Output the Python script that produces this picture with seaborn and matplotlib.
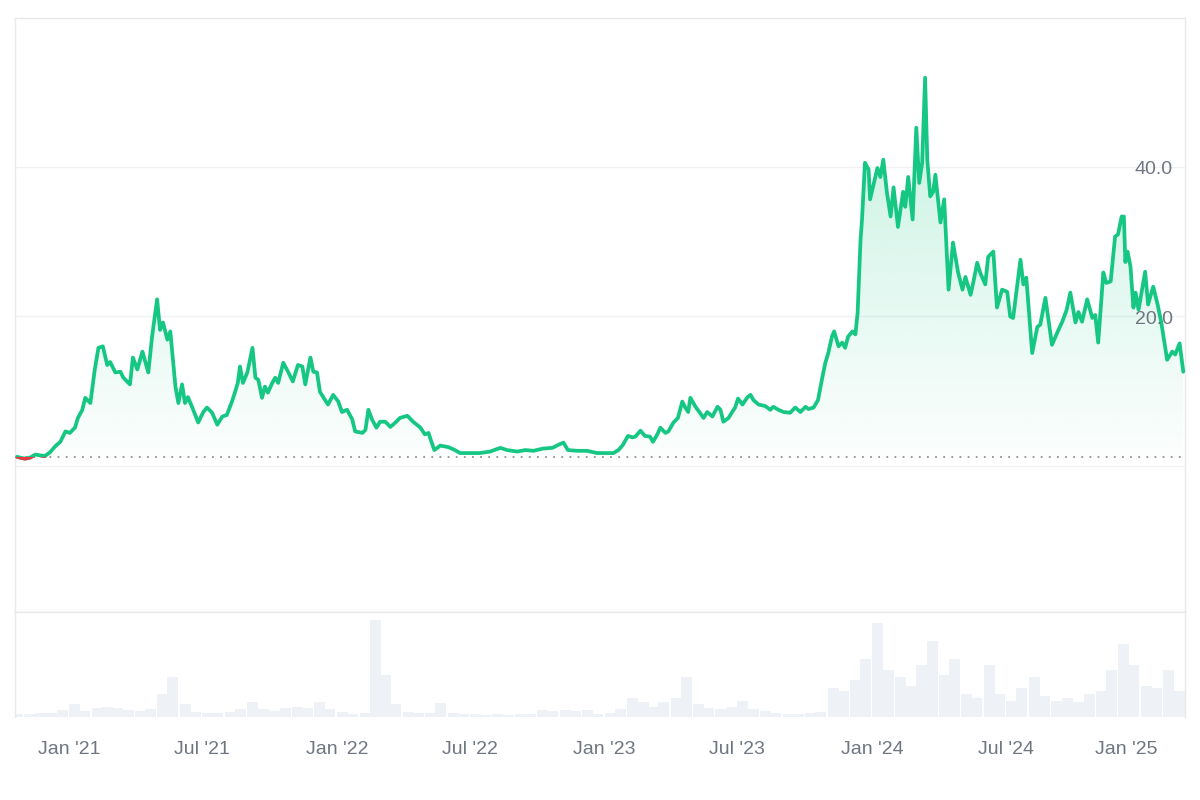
import numpy as np
import pandas as pd
import matplotlib
matplotlib.use("Agg")
import matplotlib.pyplot as plt
import matplotlib.dates as mdates
import matplotlib.transforms as mtransforms
from matplotlib.patches import Polygon, Rectangle
from matplotlib.colors import to_rgb
import seaborn as sns

# ---------------- data ----------------
price_dates = [
    "2020-10-22", "2020-10-28", "2020-11-02", "2020-11-09", "2020-11-16", "2020-11-22", "2020-11-29",
    "2020-12-06", "2020-12-13", "2020-12-20", "2020-12-27", "2021-01-02", "2021-01-09", "2021-01-13",
    "2021-01-19", "2021-01-23", "2021-01-30", "2021-02-05", "2021-02-10", "2021-02-16", "2021-02-22",
    "2021-02-26", "2021-03-05", "2021-03-12", "2021-03-16", "2021-03-25", "2021-03-29", "2021-04-04",
    "2021-04-11", "2021-04-19", "2021-04-24", "2021-05-01", "2021-05-05", "2021-05-09", "2021-05-15",
    "2021-05-19", "2021-05-26", "2021-05-30", "2021-06-04", "2021-06-08", "2021-06-12", "2021-06-18",
    "2021-06-26", "2021-07-03", "2021-07-08", "2021-07-15", "2021-07-22", "2021-07-29", "2021-08-04",
    "2021-08-11", "2021-08-15", "2021-08-19", "2021-08-22", "2021-08-26", "2021-09-01", "2021-09-08",
    "2021-09-12", "2021-09-16", "2021-09-21", "2021-09-25", "2021-09-29", "2021-10-05", "2021-10-09",
    "2021-10-13", "2021-10-20", "2021-10-27", "2021-11-02", "2021-11-09", "2021-11-15", "2021-11-19",
    "2021-11-26", "2021-11-30", "2021-12-05", "2021-12-09", "2021-12-16", "2021-12-20", "2021-12-27",
    "2022-01-03", "2022-01-08", "2022-01-15", "2022-01-22", "2022-01-26", "2022-02-05", "2022-02-09",
    "2022-02-13", "2022-02-18", "2022-02-24", "2022-03-01", "2022-03-08", "2022-03-15", "2022-03-22",
    "2022-03-28", "2022-04-07", "2022-04-15", "2022-04-25", "2022-05-01", "2022-05-06", "2022-05-10",
    "2022-05-14", "2022-05-22", "2022-06-02", "2022-06-11", "2022-06-18", "2022-07-02", "2022-07-15",
    "2022-07-29", "2022-08-12", "2022-08-21", "2022-09-04", "2022-09-15", "2022-09-26", "2022-10-09",
    "2022-10-22", "2022-10-30", "2022-11-06", "2022-11-12", "2022-11-25", "2022-12-08", "2022-12-22",
    "2023-01-05", "2023-01-13", "2023-01-20", "2023-01-26", "2023-02-02", "2023-02-08", "2023-02-12",
    "2023-02-19", "2023-02-25", "2023-03-04", "2023-03-08", "2023-03-14", "2023-03-18", "2023-03-25",
    "2023-03-29", "2023-04-05", "2023-04-11", "2023-04-17", "2023-04-21", "2023-04-25", "2023-04-28",
    "2023-05-05", "2023-05-11", "2023-05-16", "2023-05-21", "2023-05-28", "2023-06-04", "2023-06-08",
    "2023-06-12", "2023-06-19", "2023-06-24", "2023-06-28", "2023-07-02", "2023-07-08", "2023-07-15",
    "2023-07-19", "2023-07-23", "2023-07-30", "2023-08-08", "2023-08-15", "2023-08-19", "2023-08-26",
    "2023-09-02", "2023-09-11", "2023-09-18", "2023-09-25", "2023-10-02", "2023-10-06", "2023-10-13",
    "2023-10-19", "2023-10-25", "2023-10-29", "2023-11-02", "2023-11-07", "2023-11-10", "2023-11-16",
    "2023-11-21", "2023-11-25", "2023-11-29", "2023-12-05", "2023-12-09", "2023-12-12", "2023-12-16",
    "2023-12-18", "2023-12-22", "2023-12-27", "2023-12-29", "2024-01-02", "2024-01-08", "2024-01-12",
    "2024-01-16", "2024-01-21", "2024-01-26", "2024-01-30", "2024-02-05", "2024-02-12", "2024-02-15",
    "2024-02-19", "2024-02-25", "2024-03-01", "2024-03-05", "2024-03-09", "2024-03-13", "2024-03-16",
    "2024-03-20", "2024-03-24", "2024-03-27", "2024-04-03", "2024-04-08", "2024-04-14", "2024-04-20",
    "2024-04-27", "2024-05-03", "2024-05-07", "2024-05-14", "2024-05-18", "2024-05-23", "2024-05-27",
    "2024-06-03", "2024-06-07", "2024-06-14", "2024-06-19", "2024-06-26", "2024-07-03", "2024-07-07",
    "2024-07-11", "2024-07-21", "2024-07-25", "2024-07-29", "2024-08-06", "2024-08-13", "2024-08-17",
    "2024-08-24", "2024-09-02", "2024-09-09", "2024-09-16", "2024-09-22", "2024-09-27", "2024-10-04",
    "2024-10-08", "2024-10-13", "2024-10-20", "2024-10-27", "2024-10-31", "2024-11-04", "2024-11-11",
    "2024-11-15", "2024-11-21", "2024-11-27", "2024-12-01", "2024-12-06", "2024-12-09", "2024-12-11",
    "2024-12-14", "2024-12-18", "2024-12-22", "2024-12-25", "2024-12-29", "2025-01-07", "2025-01-11",
    "2025-01-18", "2025-01-24", "2025-01-29", "2025-02-01", "2025-02-06", "2025-02-13", "2025-02-17",
    "2025-02-23", "2025-02-28",
]
prices = [
    1.2, 1.05, 0.95, 1.1, 1.5, 1.4, 1.3,
    1.8, 2.6, 3.2, 4.6, 4.4, 5.1, 6.4,
    7.5, 9.1, 8.4, 12.9, 15.8, 16.0, 13.5,
    13.9, 12.5, 12.6, 11.8, 10.9, 14.5, 12.9,
    15.3, 12.5, 17.2, 22.3, 18.2, 19.2, 16.9,
    18.0, 10.6, 8.4, 10.9, 8.4, 9.2, 7.8,
    5.8, 7.2, 7.8, 7.1, 5.5, 6.6, 6.8,
    8.6, 9.8, 11.1, 13.3, 11.1, 12.5, 15.8,
    11.8, 11.5, 9.1, 10.6, 9.8, 11.1, 11.8,
    11.1, 13.8, 12.5, 11.3, 13.5, 13.3, 10.9,
    14.5, 12.6, 12.5, 9.9, 8.8, 8.2, 9.5,
    8.6, 7.2, 7.5, 6.2, 4.6, 4.4, 4.8,
    7.5, 6.2, 5.1, 5.9, 5.9, 5.2, 5.8,
    6.4, 6.7, 5.9, 5.1, 4.2, 4.4, 3.2,
    2.1, 2.7, 2.5, 2.1, 1.7, 1.7, 1.7,
    1.9, 2.4, 2.1, 1.9, 2.1, 2.0, 2.3,
    2.4, 2.8, 3.1, 2.1, 2.0, 2.0, 1.7,
    1.7, 1.7, 2.1, 2.8, 4.0, 3.8, 3.9,
    4.7, 4.0, 3.9, 3.2, 4.2, 5.1, 4.4,
    4.6, 5.8, 6.4, 8.6, 7.8, 7.2, 9.1,
    7.9, 7.1, 6.4, 7.2, 6.6, 7.9, 7.5,
    5.9, 6.4, 7.2, 7.8, 9.0, 8.2, 9.2,
    9.5, 8.8, 8.2, 8.0, 7.5, 7.9, 7.5,
    7.2, 7.1, 7.8, 7.2, 7.9, 7.6, 7.8,
    8.8, 11.9, 13.8, 15.1, 17.3, 18.0, 16.0,
    16.5, 15.8, 17.3, 18.0, 17.6, 20.5, 30.3,
    33.0, 40.6, 39.7, 35.7, 37.4, 39.9, 38.7,
    41.0, 36.6, 33.4, 37.3, 32.0, 36.7, 34.7,
    38.7, 33.0, 45.3, 37.9, 40.6, 52.0, 41.0,
    36.1, 36.7, 39.0, 32.6, 35.7, 23.6, 29.9,
    25.9, 23.6, 25.3, 22.9, 24.7, 27.2, 25.9,
    24.3, 28.0, 28.7, 21.2, 23.6, 23.3, 20.0,
    19.8, 27.6, 24.3, 25.2, 15.1, 18.6, 18.9,
    22.5, 16.2, 17.8, 19.3, 20.9, 23.2, 19.2,
    20.6, 19.3, 22.3, 19.8, 20.2, 16.5, 25.9,
    24.5, 24.7, 30.7, 31.0, 33.4, 33.4, 27.3,
    28.7, 26.7, 21.2, 23.2, 20.9, 26.0, 21.6,
    24.0, 21.6, 19.2, 17.3, 14.2, 15.3, 14.9,
    16.4, 12.6,
]

volume_dates = [
    "2020-10-15", "2020-11-01", "2020-11-15", "2020-12-01", "2020-12-15",
    "2021-01-01", "2021-01-15", "2021-02-01", "2021-02-15", "2021-03-01", "2021-03-15",
    "2021-04-01", "2021-04-15", "2021-05-01", "2021-05-15", "2021-06-01", "2021-06-15",
    "2021-07-01", "2021-07-15", "2021-08-01", "2021-08-15", "2021-09-01", "2021-09-15",
    "2021-10-01", "2021-10-15", "2021-11-01", "2021-11-15", "2021-12-01", "2021-12-15",
    "2022-01-01", "2022-01-15", "2022-02-01", "2022-02-15", "2022-03-01", "2022-03-15",
    "2022-04-01", "2022-04-15", "2022-05-01", "2022-05-15", "2022-06-01", "2022-06-15",
    "2022-07-01", "2022-07-15", "2022-08-01", "2022-08-15", "2022-09-01", "2022-09-15",
    "2022-10-01", "2022-10-15", "2022-11-01", "2022-11-15", "2022-12-01", "2022-12-15",
    "2023-01-01", "2023-01-15", "2023-02-01", "2023-02-15", "2023-03-01", "2023-03-15",
    "2023-04-01", "2023-04-15", "2023-05-01", "2023-05-15", "2023-06-01", "2023-06-15",
    "2023-07-01", "2023-07-15", "2023-08-01", "2023-08-15", "2023-09-01", "2023-09-15",
    "2023-10-01", "2023-10-15", "2023-11-01", "2023-11-15", "2023-12-01", "2023-12-15",
    "2024-01-01", "2024-01-15", "2024-02-01", "2024-02-15", "2024-03-01", "2024-03-15",
    "2024-04-01", "2024-04-15", "2024-05-01", "2024-05-15", "2024-06-01", "2024-06-15",
    "2024-07-01", "2024-07-15", "2024-08-01", "2024-08-15", "2024-09-01", "2024-09-15",
    "2024-10-01", "2024-10-15", "2024-11-01", "2024-11-15", "2024-12-01", "2024-12-15",
    "2025-01-01", "2025-01-15", "2025-02-01", "2025-02-15",
]
volumes = [
    3, 3, 4, 4, 7,
    12, 6, 9, 10, 9, 7,
    6, 8, 22, 38, 12, 5,
    4, 4, 5, 8, 14, 8,
    6, 9, 10, 9, 14, 8,
    5, 3, 4, 92, 40, 12,
    5, 4, 4, 13, 4, 3,
    3, 2, 3, 2, 3, 3,
    7, 6, 7, 6, 7, 3,
    4, 8, 18, 14, 10, 14,
    18, 38, 12, 9, 8, 10,
    15, 8, 6, 4, 3, 3,
    4, 5, 28, 25, 35, 55,
    90, 45, 38, 30, 50, 72,
    40, 55, 22, 18, 50, 22,
    15, 28, 38, 20, 15, 18,
    14, 22, 25, 45, 70, 50,
    30, 28, 45, 25,
]

x_tick_dates = ["2021-01-01", "2021-07-01", "2022-01-01", "2022-07-01", "2023-01-01",
                "2023-07-01", "2024-01-01", "2024-07-01", "2025-01-01"]
x_tick_labels = ["Jan '21", "Jul '21", "Jan '22", "Jul '22", "Jan '23",
                 "Jul '23", "Jan '24", "Jul '24", "Jan '25"]
y_tick_values = [20, 40]
y_grid_values = [0, 20, 40]

# ---------------- style ----------------
GREEN = "#16c784"
RED = "#ea3943"
TEXT = "#6f7682"
FRAME = "#e7e9ec"
GRID = "#eff1f3"
VOL = "#eef1f5"

sns.set_theme(style="white")
plt.rcParams["font.family"] = ["Liberation Sans", "DejaVu Sans"]

W, H = 1200, 800
fig = plt.figure(figsize=(W / 100, H / 100), dpi=100)
fig.patch.set_facecolor("white")
ax = fig.add_axes([15 / W, 1 - 612 / H, 1170 / W, 594 / H])
axv = fig.add_axes([15 / W, 1 - 717 / H, 1170 / W, 105 / H], sharex=ax)

df = pd.DataFrame({"date": pd.to_datetime(price_dates), "price": prices})
xnum = mdates.date2num(df["date"])
base = prices[0]
x_left = pd.Timestamp("2020-10-19 06:00")
x_right = pd.Timestamp("2025-03-02 08:00")

# gridlines
for g in y_grid_values:
    ax.axhline(g, color=GRID, lw=1, zorder=0)

# gradient area between the line and the starting price
poly = Polygon(np.column_stack([np.r_[xnum[0], xnum, xnum[-1]],
                                np.r_[base, df["price"].values, base]]),
               closed=True, facecolor="none", edgecolor="none")
ax.add_patch(poly)
n = 256
rgba = np.zeros((n, 1, 4))
rgba[..., :3] = to_rgb(GREEN)
rgba[..., 3] = np.linspace(0.015, 0.25, n)[:, None]
im = ax.imshow(rgba, extent=[xnum[0], xnum[-1], base, max(prices)],
               origin="lower", aspect="auto", zorder=1, interpolation="bilinear")
im.set_clip_path(poly)

# dotted baseline at the starting price
ax.plot([df["date"].iloc[0], x_right], [base, base], ls=(0, (1, 3.5)),
        color="#8d939c", lw=1.3, zorder=2)

# price line
sns.lineplot(data=df, x="date", y="price", ax=ax, color=GREEN, linewidth=2.7,
             zorder=3, solid_capstyle="round", solid_joinstyle="round")
# red part below the starting price
sns.lineplot(data=df.iloc[:8], x="date", y="price", ax=ax, color=RED,
             linewidth=2.7, zorder=4, solid_capstyle="round")
red_line = ax.lines[-1]
clip = Rectangle((xnum[0] - 30, -30), 90, 30 + base, transform=ax.transData,
                 facecolor="none", edgecolor="none")
red_line.set_clip_path(clip)

ax.set_xlim(x_left, x_right)
ax.set_ylim(-19.6, 60)
ax.set_xlabel("")
ax.set_ylabel("")
ax.set_yticks([])
ax.tick_params(axis="x", which="both", labelbottom=False, length=0)
ax.set_facecolor("white")

# y labels inside the plot on the right
for v in y_tick_values:
    ax.text(0.9895, v - 0.35, f"{v:.1f}", transform=ax.get_yaxis_transform(),
            ha="right", va="center", fontsize=14, color=TEXT, zorder=5)

for s in ax.spines.values():
    s.set_color(FRAME)
    s.set_linewidth(1)

# volume panel
axv.bar(pd.to_datetime(volume_dates), volumes, width=15, align="edge",
        color=VOL, edgecolor="none", zorder=1)
axv.set_ylim(0, 100)
axv.set_yticks([])
axv.set_facecolor("white")
for k, s in axv.spines.items():
    s.set_color(FRAME)
    s.set_linewidth(1)
axv.spines["bottom"].set_visible(False)

axv.set_xticks(pd.to_datetime(x_tick_dates))
axv.set_xticklabels(x_tick_labels)
axv.tick_params(axis="x", length=0, pad=17, labelsize=14, labelcolor=TEXT)
axv.set_xlim(x_left, x_right)
axv.set_xlabel("")
# last label is pulled inward, as in the reference
last = axv.get_xticklabels()[-1]
last.set_transform(last.get_transform() +
                   mtransforms.ScaledTranslation(-14 / 100, 0, fig.dpi_scale_trans))

fig.savefig("out.png", dpi=100, facecolor="white")
